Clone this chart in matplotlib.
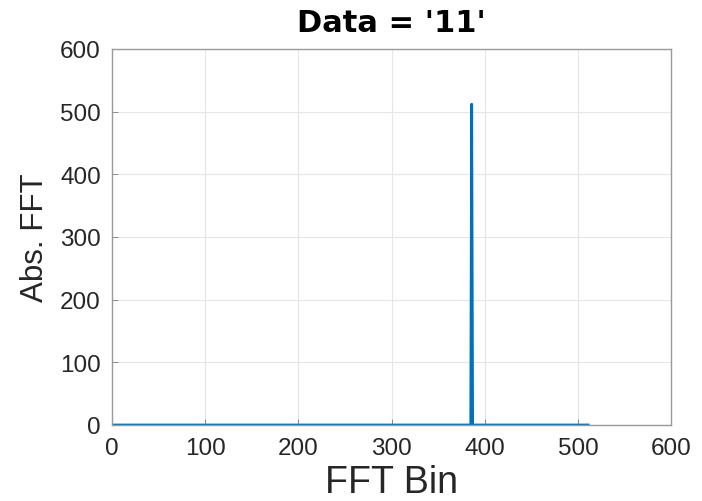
import matplotlib.pyplot as plt

# FFT magnitude: flat zero except a single peak
bins = [0, 385, 386, 387, 511]
values = [0, 0, 512, 0, 0]
ticks = [0, 100, 200, 300, 400, 500, 600]

plt.rcParams['font.family'] = ['Liberation Sans', 'DejaVu Sans']

fig = plt.figure(figsize=(7.02, 5.02), dpi=100)
ax = fig.add_axes([0.1595, 0.1514, 0.7965, 0.749])

ax.plot(bins, values, color='#0072BD', linewidth=2)

ax.set_xlim(0, 600)
ax.set_ylim(0, 600)
ax.set_xticks(ticks)
ax.set_yticks(ticks)
ax.grid(True, color='#e6e6e6', linewidth=0.8)
ax.set_axisbelow(True)
ax.tick_params(direction='in', length=4, width=0.6, colors='#808080',
               labelcolor='#262626', labelsize=17.5)
ax.tick_params(axis='x', pad=9)
ax.tick_params(axis='y', pad=8)
for s in ax.spines.values():
    s.set_color('#9a9a9a')
    s.set_linewidth(1.0)

ax.set_title("Data = '11'", fontsize=22, fontweight='bold', pad=13,
             family=['DejaVu Sans'])
ax.set_xlabel('FFT Bin', fontsize=27, color='#262626', labelpad=3)
ax.set_ylabel('Abs. FFT', fontsize=22.5, color='#262626', labelpad=7)

fig.savefig('out.png', dpi=100)
